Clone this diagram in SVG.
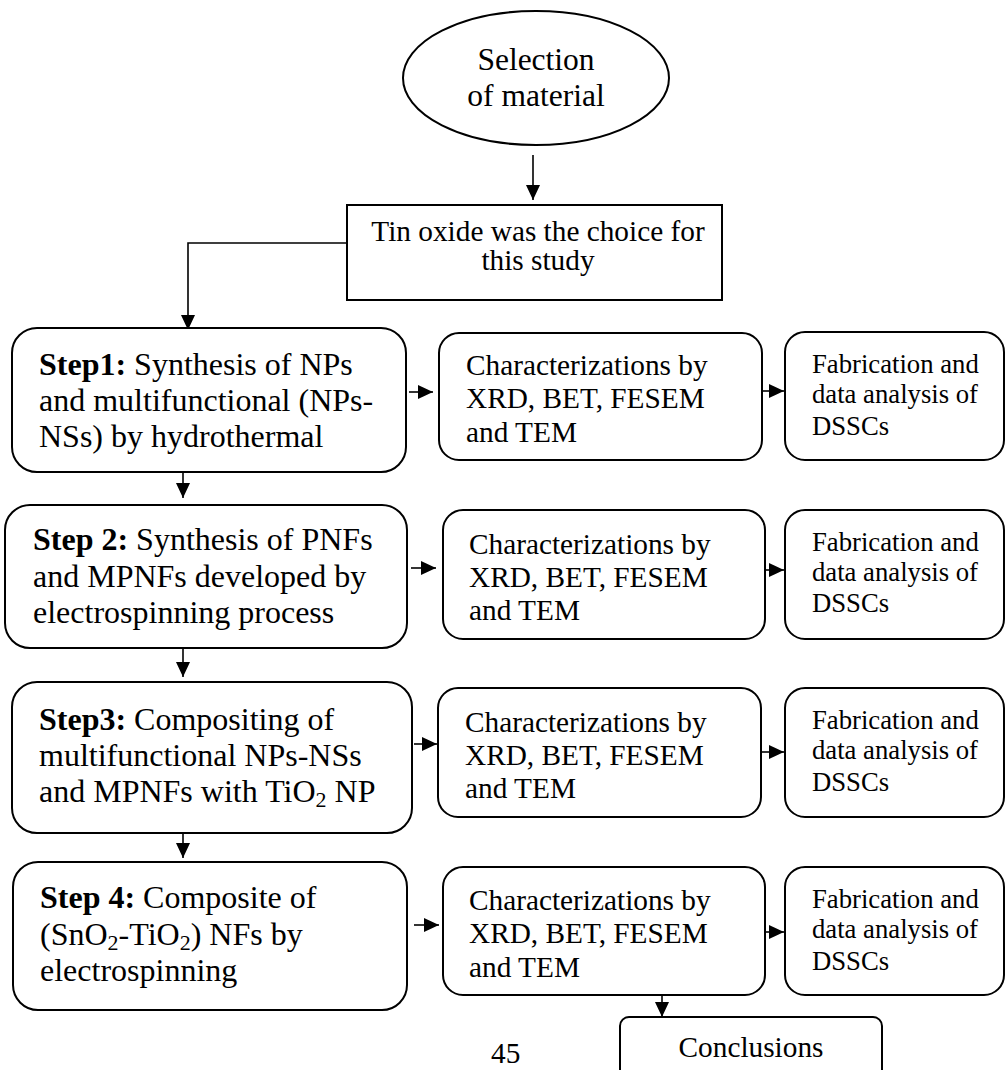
<svg xmlns="http://www.w3.org/2000/svg" width="1006" height="1070" viewBox="0 0 1006 1070">
<style>
.box{fill:#fff;stroke:#000;stroke-width:2}
.t{font-family:"Liberation Serif","Times New Roman",serif;fill:#000}
.st{font-size:32px}
.ch{font-size:29.3px}
.fb{font-size:26.7px}
.b{font-weight:bold}
.sub{font-size:22px;baseline-shift:-5px}
.c{stroke:#000;stroke-width:1.6;fill:none}
</style>
<defs>
<marker id="ah" markerUnits="userSpaceOnUse" markerWidth="15" markerHeight="14" refX="15" refY="7" orient="auto">
<path d="M0,0 L15,7 L0,14 z" fill="#000"/>
</marker>
</defs>
<rect width="1006" height="1070" fill="#fff"/>

<g id="connectors">
<line class="c" x1="533" y1="155" x2="533" y2="200" marker-end="url(#ah)"/>
<path class="c" d="M347,243 H188 V330" marker-end="url(#ah)"/>
<line class="c" x1="183" y1="472" x2="183" y2="498" marker-end="url(#ah)"/>
<line class="c" x1="183" y1="648" x2="183" y2="677" marker-end="url(#ah)"/>
<line class="c" x1="183" y1="833" x2="183" y2="858" marker-end="url(#ah)"/>
<line class="c" x1="409" y1="392" x2="433" y2="392" marker-end="url(#ah)"/>
<line class="c" x1="411" y1="568" x2="436" y2="568" marker-end="url(#ah)"/>
<line class="c" x1="414" y1="744" x2="437" y2="744" marker-end="url(#ah)"/>
<line class="c" x1="414" y1="925" x2="439" y2="925" marker-end="url(#ah)"/>
<line class="c" x1="762" y1="391" x2="784" y2="391" marker-end="url(#ah)"/>
<line class="c" x1="765" y1="570" x2="784" y2="570" marker-end="url(#ah)"/>
<line class="c" x1="761" y1="752" x2="784" y2="752" marker-end="url(#ah)"/>
<line class="c" x1="765" y1="932" x2="784" y2="932" marker-end="url(#ah)"/>
<line class="c" x1="662" y1="995" x2="662" y2="1017" marker-end="url(#ah)"/>
</g>

<g id="selection">
<ellipse class="box" cx="536" cy="78" rx="133" ry="67"/>
<text class="t" font-size="31.5" text-anchor="middle" x="536" y="70">Selection</text>
<text class="t" font-size="31.5" text-anchor="middle" x="536" y="106">of material</text>
</g>

<g id="tinoxide">
<rect class="box" x="347" y="205" width="375" height="95"/>
<text class="t ch" text-anchor="middle" x="538" y="241">Tin oxide was the choice for</text>
<text class="t ch" text-anchor="middle" x="538" y="270">this study</text>
</g>

<g id="step1">
<rect class="box" x="12" y="328" width="394" height="144" rx="25"/>
<text class="t st" x="39" y="375"><tspan class="b">Step1:</tspan> Synthesis of NPs</text>
<text class="t st" x="39" y="411">and multifunctional (NPs-</text>
<text class="t st" x="39" y="447">NSs) by hydrothermal</text>
</g>

<g id="step2">
<rect class="box" x="5" y="505" width="402" height="143" rx="25"/>
<text class="t st" x="33" y="550"><tspan class="b">Step 2:</tspan> Synthesis of PNFs</text>
<text class="t st" x="33" y="587">and MPNFs developed by</text>
<text class="t st" x="33" y="623">electrospinning process</text>
</g>

<g id="step3">
<rect class="box" x="12" y="682" width="400" height="151" rx="25"/>
<text class="t st" x="39" y="730"><tspan class="b">Step3:</tspan> Compositing of</text>
<text class="t st" x="39" y="766">multifunctional NPs-NSs</text>
<text class="t st" x="39" y="802">and MPNFs with TiO<tspan class="sub">2</tspan> NP</text>
</g>

<g id="step4">
<rect class="box" x="13" y="862" width="394" height="148" rx="25"/>
<text class="t st" x="40" y="908"><tspan class="b">Step 4:</tspan> Composite of</text>
<text class="t st" x="40" y="945">(SnO<tspan class="sub">2</tspan>-TiO<tspan class="sub">2</tspan>) NFs by</text>
<text class="t st" x="40" y="981">electrospinning</text>
</g>

<g id="char1">
<rect class="box" x="439" y="333" width="323" height="127" rx="20"/>
<text class="t ch" x="466" y="375">Characterizations by</text>
<text class="t ch" x="466" y="408">XRD, BET, FESEM</text>
<text class="t ch" x="466" y="442">and TEM</text>
</g>
<g id="char2">
<rect class="box" x="443" y="510" width="322" height="129" rx="20"/>
<text class="t ch" x="469" y="554">Characterizations by</text>
<text class="t ch" x="469" y="587">XRD, BET, FESEM</text>
<text class="t ch" x="469" y="620">and TEM</text>
</g>
<g id="char3">
<rect class="box" x="438" y="688" width="323" height="129" rx="20"/>
<text class="t ch" x="465" y="732">Characterizations by</text>
<text class="t ch" x="465" y="765">XRD, BET, FESEM</text>
<text class="t ch" x="465" y="798">and TEM</text>
</g>
<g id="char4">
<rect class="box" x="443" y="867" width="322" height="128" rx="20"/>
<text class="t ch" x="469" y="910">Characterizations by</text>
<text class="t ch" x="469" y="943">XRD, BET, FESEM</text>
<text class="t ch" x="469" y="977">and TEM</text>
</g>

<g id="fab1">
<rect class="box" x="785" y="332" width="219" height="128" rx="20"/>
<text class="t fb" x="812" y="373">Fabrication and</text>
<text class="t fb" x="812" y="403">data analysis of</text>
<text class="t fb" x="812" y="435">DSSCs</text>
</g>
<g id="fab2">
<rect class="box" x="785" y="510" width="219" height="129" rx="20"/>
<text class="t fb" x="812" y="551">Fabrication and</text>
<text class="t fb" x="812" y="581">data analysis of</text>
<text class="t fb" x="812" y="612">DSSCs</text>
</g>
<g id="fab3">
<rect class="box" x="785" y="688" width="219" height="129" rx="20"/>
<text class="t fb" x="812" y="729">Fabrication and</text>
<text class="t fb" x="812" y="759">data analysis of</text>
<text class="t fb" x="812" y="791">DSSCs</text>
</g>
<g id="fab4">
<rect class="box" x="785" y="867" width="219" height="128" rx="20"/>
<text class="t fb" x="812" y="908">Fabrication and</text>
<text class="t fb" x="812" y="938">data analysis of</text>
<text class="t fb" x="812" y="970">DSSCs</text>
</g>

<g id="conclusions">
<rect class="box" x="620" y="1017" width="262" height="80" rx="9"/>
<text class="t ch" text-anchor="middle" x="751" y="1057">Conclusions</text>
</g>

<text class="t ch" x="491" y="1063">45</text>
</svg>
